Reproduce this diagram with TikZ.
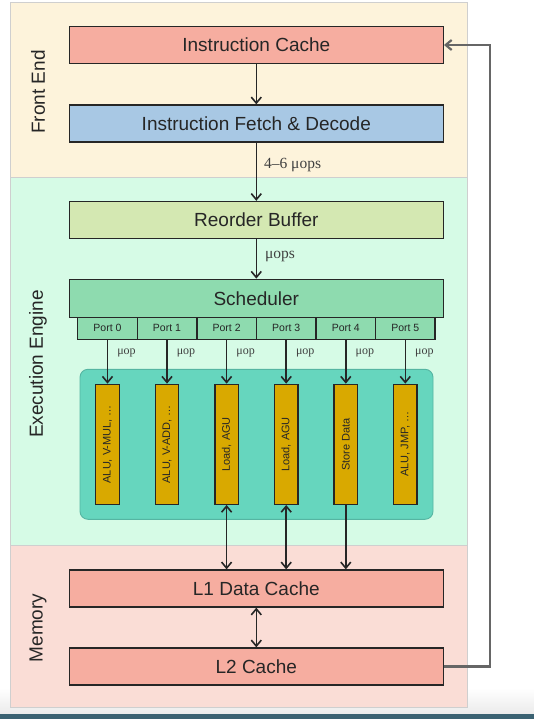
\documentclass[tikz,border=0pt]{standalone}
\usepackage{fontspec}
\setmainfont{Liberation Sans}
\newfontfamily\mufont{Liberation Serif}
\usetikzlibrary{arrows.meta}
\definecolor{feBg}{HTML}{FDF3DB}
\definecolor{eeBg}{HTML}{D6FBE6}
\definecolor{memBg}{HTML}{FADDD6}
\definecolor{panelLine}{HTML}{CFCFCF}
\definecolor{cacheCol}{HTML}{F6ADA0}
\definecolor{decCol}{HTML}{A8C8E4}
\definecolor{robCol}{HTML}{D4E8B2}
\definecolor{schedCol}{HTML}{8EDBAF}
\definecolor{poolCol}{HTML}{66D6BE}
\definecolor{poolLine}{HTML}{55B5A2}
\definecolor{unitCol}{HTML}{D9A900}
\definecolor{fbCol}{HTML}{666666}
\definecolor{stripCol}{HTML}{3B6272}
\begin{document}
\begin{tikzpicture}[x=1pt,y=-1pt,
  panel/.style={draw=panelLine, line width=0.8pt},
  box/.style={draw=black!85, line width=1.3pt, minimum width=374pt, minimum height=37pt,
    inner sep=0pt, text=black!85, font=\fontsize{19}{22}\selectfont},
  portbox/.style={draw=black!85, line width=1.3pt, fill=schedCol, minimum width=59.5pt,
    minimum height=22.3pt, inner sep=0pt, text=black!85, font=\fontsize{10.5}{12}\selectfont},
  unitbox/.style={draw=black!85, line width=1.3pt, fill=unitCol, rotate=90, minimum width=120pt,
    minimum height=23.5pt, inner sep=0pt, text=black!85, font=\fontsize{11}{13}\selectfont},
  sidelabel/.style={rotate=90, font=\fontsize{19}{22}\selectfont, text=black!85, inner sep=0pt},
  flow/.style={draw=black!85, line width=1.6pt, -{Straight Barb[length=6pt,width=10pt]}},
  biflow/.style={draw=black!85, line width=1.6pt, {Straight Barb[length=6pt,width=10pt]}-{Straight Barb[length=6pt,width=10pt]}},
  fbline/.style={draw=fbCol, line width=2.2pt, -{Straight Barb[length=6pt,width=10pt]}},
  mubig/.style={font=\mufont\fontsize{15.5}{18}\selectfont, text=black!75, inner sep=0pt, anchor=west},
  musmall/.style={font=\mufont\fontsize{12}{14}\selectfont, text=black!75, inner sep=0pt, anchor=west}
]
\useasboundingbox (0,0) rectangle (534,719);
% background
\fill[white] (0,0) rectangle (534,719);
\shade[top color=white, bottom color=black!8] (0,688) rectangle (534,714);
\fill[stripCol] (0,714) rectangle (534,719);
% panels
\draw[panel, fill=feBg] (10,2.5) rectangle (467,177.3);
\draw[panel, fill=eeBg] (10,177.3) rectangle (467,545);
\draw[panel, fill=memBg] (10,545) rectangle (467,707.5);
\node[sidelabel] (lfe) at (38,92) {Front End};
\node[sidelabel] (lee) at (38,364) {Execution Engine};
\node[sidelabel] (lmem) at (38,628) {Memory};
% front end
\node[box, fill=cacheCol] (ic) at (256.3,45) {Instruction Cache};
\node[box, fill=decCol] (ifd) at (256.3,123.5) {Instruction Fetch \& Decode};
% execution engine
\node[box, fill=robCol] (rob) at (256.3,220) {Reorder Buffer};
\node[box, fill=schedCol, minimum height=38pt] (sch) at (256.3,298.3) {Scheduler};
\node[portbox] (p0) at (107.5,328.3) {Port 0};
\node[portbox] (p1) at (167,328.3) {Port 1};
\node[portbox] (p2) at (226.6,328.3) {Port 2};
\node[portbox] (p3) at (286.2,328.3) {Port 3};
\node[portbox] (p4) at (345.8,328.3) {Port 4};
\node[portbox] (p5) at (405.3,328.3) {Port 5};
\node[draw=poolLine, fill=poolCol, line width=0.9pt, rounded corners=8pt,
  minimum width=353pt, minimum height=150pt] (pool) at (256.5,444.3) {};
\node[unitbox] (u0) at (107.5,444.3) {ALU, V-MUL, \dots};
\node[unitbox] (u1) at (167,444.3) {ALU, V-ADD, \dots};
\node[unitbox] (u2) at (226.6,444.3) {Load, AGU};
\node[unitbox] (u3) at (286.2,444.3) {Load, AGU};
\node[unitbox] (u4) at (345.8,444.3) {Store Data};
\node[unitbox] (u5) at (405.3,444.3) {ALU, JMP, \dots};
% memory
\node[box, fill=cacheCol] (l1) at (256.3,588.5) {L1 Data Cache};
\node[box, fill=cacheCol] (l2) at (256.3,666.5) {L2 Cache};
% connectors
\draw[flow] (ic.south) -- (ifd.north);
\draw[flow] (ifd.south) -- node[mubig, pos=0.39, xshift=7pt] (lab46) {4–6 μops} (rob.north);
\draw[flow] (rob.south) -- node[mubig, pos=0.45, xshift=8pt] (labmu) {μops} (sch.north);
\foreach \i in {0,...,5}{
  \draw[flow] (p\i.south) -- node[musmall, pos=0.3, xshift=9pt] {μop} (u\i.east);
}
\draw[biflow] (u2.west) -- (u2.west |- l1.north);
\draw[biflow] (u3.west) -- (u3.west |- l1.north);
\draw[flow] (u4.west) -- (u4.west |- l1.north);
\draw[biflow] (l1.south) -- (l2.north);
\coordinate (fb) at (490,0);
\draw[fbline] (l2.east) -- (l2.east -| fb) -- (ic.east -| fb) -- (ic.east);
\end{tikzpicture}
\end{document}
